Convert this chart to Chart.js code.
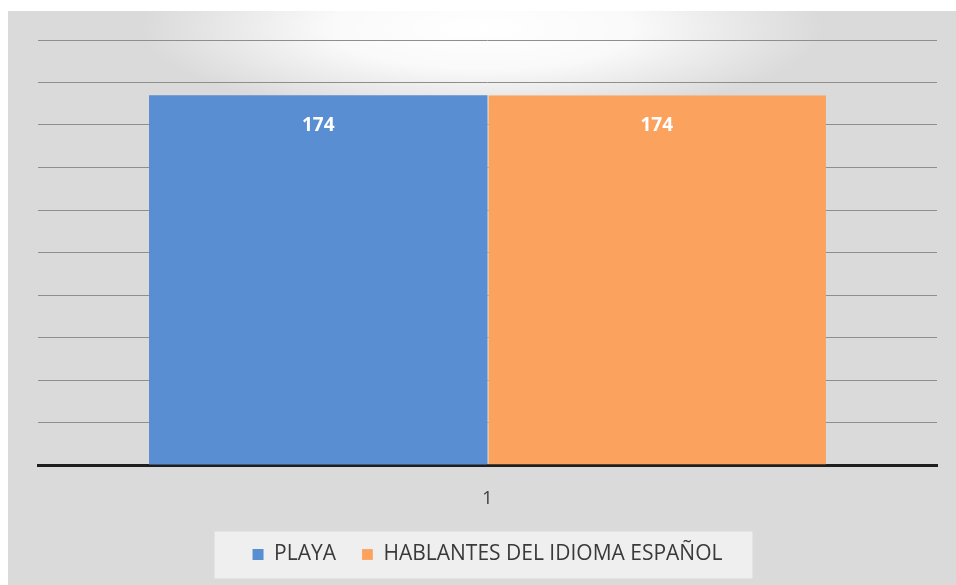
<!DOCTYPE html>
<html>
<head>
<meta charset="utf-8">
<script src="https://cdn.jsdelivr.net/npm/chart.js@4/dist/chart.umd.min.js"></script>
<style>
  html, body { margin: 0; padding: 0; background: #fff; }
  #wrap {
    position: absolute; left: 8px; top: 11px; width: 948px; height: 574px;
    background:
      radial-gradient(ellipse 36% 16% at 50% 3%, rgba(255,255,255,1) 0%, rgba(255,255,255,0.85) 45%, rgba(255,255,255,0) 100%),
      #dadada;
  }
</style>
</head>
<body>
<div id="wrap"><canvas id="chart" width="948" height="574"></canvas></div>
<script>
"use strict";

const categories = ["1"];
const seriesNames = ["PLAYA", "HABLANTES DEL IDIOMA ESPAÑOL"];
const playa = [174];
const hablantes = [174];
const COLORS = { playa: "#5a8ed3", hablantes: "#fba35e", grid: "#8e8e8e", text: "#3a3a3a" };

// white value labels just under the top of each bar
const barLabels = {
  id: "barLabels",
  afterDatasetsDraw(chart) {
    const ctx = chart.ctx;
    ctx.save();
    ctx.fillStyle = "#ffffff";
    ctx.font = "bold 19px 'Open Sans'";
    ctx.textAlign = "center";
    ctx.textBaseline = "middle";
    chart.data.datasets.forEach((ds, i) => {
      chart.getDatasetMeta(i).data.forEach((bar, j) => {
        ctx.fillText(String(ds.data[j]), bar.x, bar.y + 30);
      });
    });
    ctx.restore();
  },
};

// pale backdrop behind the legend, like the scan
const legendBack = {
  id: "legendBack",
  beforeDraw(chart) {
    const lg = chart.legend;
    if (!lg || !lg.legendHitBoxes.length) return;
    const boxes = lg.legendHitBoxes;
    const left = Math.min(...boxes.map((b) => b.left)) - 38;
    const right = Math.max(...boxes.map((b) => b.left + b.width)) + 30;
    const mid = boxes[0].top + boxes[0].height / 2;
    const ctx = chart.ctx;
    ctx.save();
    ctx.fillStyle = "rgba(245,245,245,0.75)";
    ctx.fillRect(left, mid - 23, right - left, 47);
    ctx.restore();
  },
};

new Chart(document.getElementById("chart"), {
  type: "bar",
  data: {
    labels: categories,
    datasets: [
      { label: seriesNames[0], data: playa, backgroundColor: COLORS.playa },
      {
        label: seriesNames[1], data: hablantes, backgroundColor: COLORS.hablantes,
        borderColor: "rgba(255,255,255,0.55)", borderWidth: { left: 1, top: 0, right: 0, bottom: 0 },
      },
    ],
  },
  options: {
    responsive: false,
    animation: false,
    layout: { padding: { left: 30, right: 19, top: 29, bottom: 10 } },
    datasets: { bar: { categoryPercentage: 0.753, barPercentage: 1 } },
    plugins: {
      tooltip: { enabled: false },
      legend: {
        position: "bottom",
        labels: {
          color: COLORS.text, font: { size: 21, family: "'Open Sans'" },
          boxWidth: 11, boxHeight: 11, padding: 26,
        },
      },
    },
    scales: {
      x: {
        grid: { display: false, drawTicks: false },
        border: { display: true, color: "#1e1e1e", width: 3 },
        ticks: { color: COLORS.text, font: { size: 18, family: "'Open Sans'" }, padding: 23 },
        afterFit(scale) { scale.height = 53; },
      },
      y: {
        min: 0, max: 200,
        ticks: { display: false, stepSize: 20 },
        border: { display: false },
        grid: { color: COLORS.grid, lineWidth: 1, drawTicks: false },
        afterFit(scale) { scale.width = 0; },
      },
    },
  },
  plugins: [barLabels, legendBack],
});
</script>
</body>
</html>
